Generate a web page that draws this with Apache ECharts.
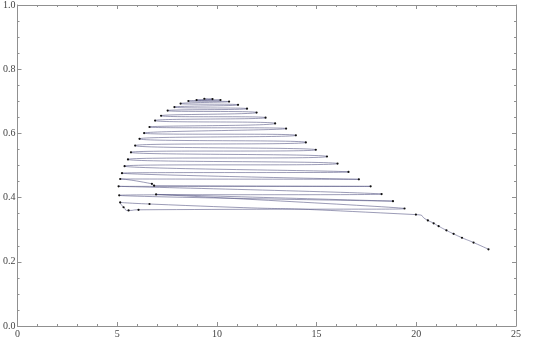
<!DOCTYPE html>
<html>
<head>
<meta charset="utf-8">
<script src="https://cdn.jsdelivr.net/npm/echarts@6/dist/echarts.min.js"></script>
<style>html,body{margin:0;padding:0;background:#fff;}#c{width:540px;height:342px;}</style>
</head>
<body>
<div id="c"></div>
<script>
// Tail (consecutive points, lower right)
const tailX = [23.62, 22.87, 22.29, 21.87, 21.51, 21.12, 20.87, 20.58, 19.98];
const tailY = [0.239, 0.260, 0.275, 0.287, 0.298, 0.311, 0.320, 0.329, 0.347];
// Knotted lower-left part
const knotX = [6.62, 5.15, 5.32, 5.57, 6.07, 19.41, 6.95, 18.83, 5.10, 18.26, 5.07, 17.71, 6.85, 6.74, 5.15, 17.12];
const knotY = [0.380, 0.385, 0.370, 0.360, 0.362, 0.366, 0.410, 0.389, 0.407, 0.411, 0.435, 0.435, 0.437, 0.443, 0.458, 0.457];
// Zigzag going up to the top
const zigX = [5.24, 16.60, 5.37, 16.05, 5.54, 15.52, 5.69, 14.96, 5.90, 14.46, 6.12, 13.96, 6.35, 13.47, 6.62, 12.92, 6.90, 12.44, 7.20, 11.99, 7.53, 11.51, 7.87, 11.06, 8.18, 10.61, 8.57, 10.18, 8.98, 9.78, 9.37];
const zigY = [0.476, 0.480, 0.498, 0.506, 0.519, 0.528, 0.541, 0.549, 0.562, 0.572, 0.583, 0.594, 0.601, 0.615, 0.620, 0.631, 0.640, 0.649, 0.655, 0.665, 0.671, 0.677, 0.682, 0.689, 0.693, 0.699, 0.701, 0.704, 0.704, 0.707, 0.708];
// Tick labels
const xTicks = [0, 5, 10, 15, 20, 25];
const yTicks = [0.0, 0.2, 0.4, 0.6, 0.8, 1.0];

const pts = [];
[[tailX, tailY], [knotX, knotY], [zigX, zigY]].forEach(([xs, ys]) => {
  xs.forEach((x, i) => pts.push([x, ys[i]]));
});

const axisCol = '#909090';
const font = {fontFamily: 'Liberation Serif', fontSize: 10, color: '#444'};
function xa(pos, labels) {
  return {
    type: 'value', position: pos,
    min: xTicks[0], max: xTicks[xTicks.length - 1], interval: xTicks[1] - xTicks[0],
    axisLine: {show: true, onZero: false, lineStyle: {color: axisCol, width: 1}},
    axisTick: {show: true, inside: true, length: 4, lineStyle: {color: axisCol}},
    minorTick: {show: true, splitNumber: 5, length: 2, lineStyle: {color: axisCol}},
    axisLabel: Object.assign({show: labels, margin: 3}, font),
    splitLine: {show: false}
  };
}
function ya(pos, labels) {
  return {
    type: 'value', position: pos,
    min: yTicks[0], max: yTicks[yTicks.length - 1], interval: 0.2,
    axisLine: {show: true, onZero: false, lineStyle: {color: axisCol, width: 1}},
    axisTick: {show: true, inside: true, length: 4, lineStyle: {color: axisCol}},
    minorTick: {show: true, splitNumber: 4, length: 2, lineStyle: {color: axisCol}},
    axisLabel: Object.assign({show: labels, margin: 2, formatter: v => v.toFixed(1)}, font),
    splitLine: {show: false}
  };
}

const chart = echarts.init(document.getElementById('c'), null, {renderer: 'canvas'});
chart.setOption({
  animation: false,
  backgroundColor: '#fff',
  grid: {left: 15, right: 24, top: 5, bottom: 16, containLabel: false},
  xAxis: [xa('bottom', true), xa('top', false)],
  yAxis: [ya('left', true), ya('right', false)],
  series: [{
    type: 'line',
    data: pts,
    smooth: 0.8,
    showSymbol: true,
    showAllSymbol: true,
    symbol: 'circle',
    symbolSize: 2.2,
    itemStyle: {color: '#111'},
    lineStyle: {color: 'rgba(90,90,135,0.8)', width: 0.75},
    z: 3
  }]
});
</script>
</body>
</html>
